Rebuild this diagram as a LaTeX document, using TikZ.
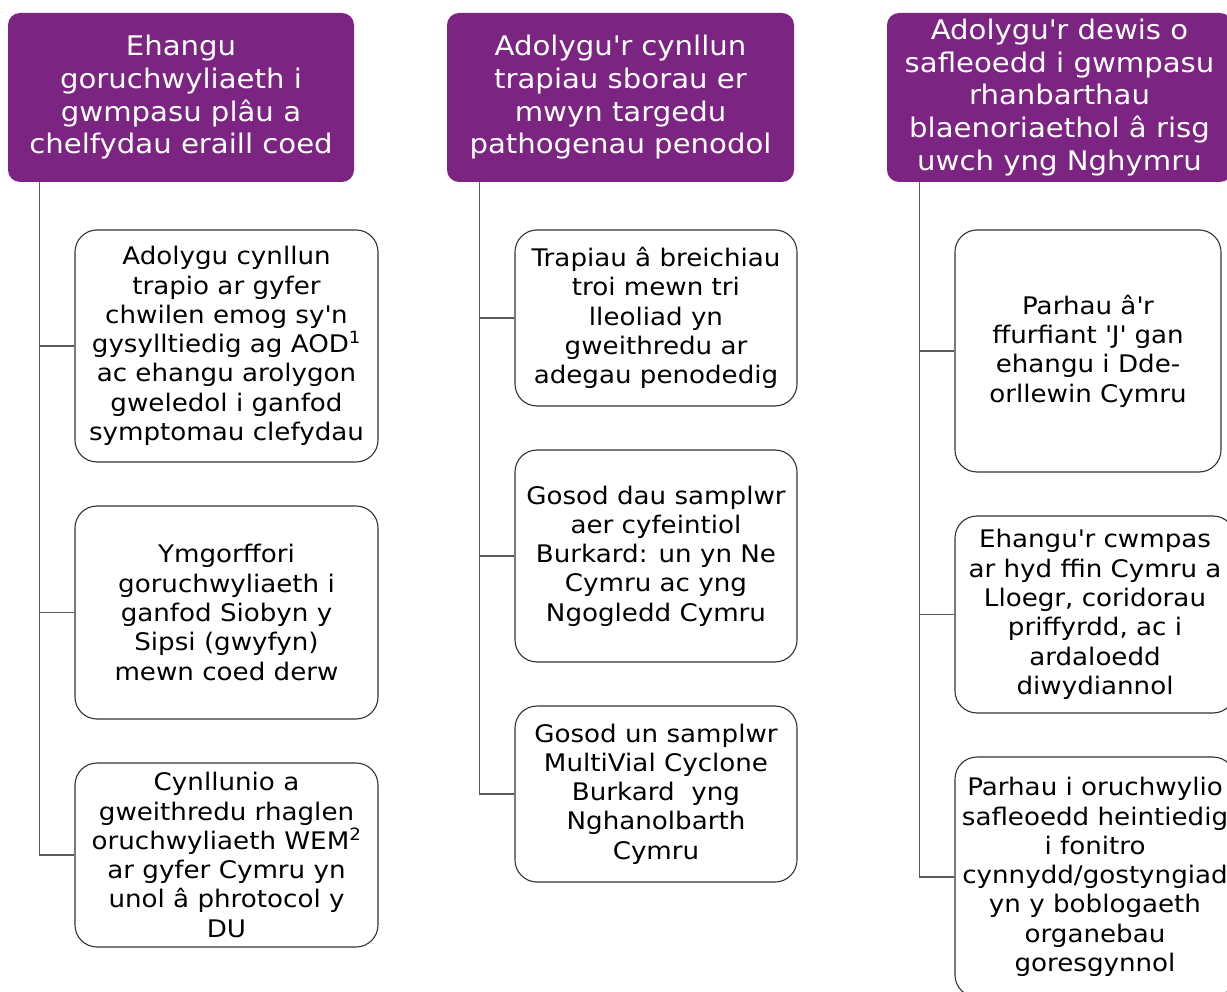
\documentclass[tikz,border=0pt]{standalone}
\usepackage{fontspec}
\setmainfont{DejaVu Sans}[FakeStretch=1.08]
\usetikzlibrary{positioning,calc}

\definecolor{headpurple}{HTML}{7B2481}
\definecolor{linegray}{HTML}{5A5A5A}
\newcommand{\ap}{\textquotesingle}

\tikzset{
    headbox/.style={fill=headpurple, text=white, rounded corners=12pt, align=center,
        font=\fontsize{27}{32.7}\selectfont, inner sep=0pt, minimum height=169pt},
    itembox/.style={draw=black!80, line width=1.1pt, fill=white, rounded corners=22pt, align=center,
        font=\fontsize{24.2}{29.3}\selectfont, inner sep=0pt},
    conn/.style={draw=linegray, line width=1.3pt}
}

\begin{document}
\begin{tikzpicture}[x=1pt, y=-1pt]
    \useasboundingbox (0,0) rectangle (1227,992);
    \clip (0,0) rectangle (1227,992);

    % Headers
    \node[headbox, minimum width=346pt] (h1) at (181,97.5)
        {Ehangu\\goruchwyliaeth i\\gwmpasu plâu a\\chelfydau eraill coed};
    \node[headbox, minimum width=347pt] (h2) at (620.5,97.5)
        {Adolygu\ap r cynllun\\trapiau sborau er\\mwyn targedu\\pathogenau penodol};
    \node[headbox, minimum width=345pt] (h3) at (1059.5,97.5)
        {Adolygu\ap r dewis o\\safleoedd i gwmpasu\\rhanbarthau\\blaenoriaethol â risg\\uwch yng Nghymru};

    % Column 1
    \node[itembox, minimum width=303pt, minimum height=232pt] (a1) at (226.5,346)
        {Adolygu cynllun\\trapio ar gyfer\\chwilen emog sy\ap n\\gysylltiedig ag AOD\textsuperscript{1}\\ac ehangu arolygon\\gweledol i ganfod\\symptomau clefydau};
    \node[itembox, minimum width=303pt, minimum height=213pt] (a2) at (226.5,612.5)
        {Ymgorffori\\goruchwyliaeth i\\ganfod Siobyn y\\Sipsi (gwyfyn)\\mewn coed derw};
    \node[itembox, minimum width=303pt, minimum height=184pt] (a3) at (226.5,855)
        {Cynllunio a\\gweithredu rhaglen\\oruchwyliaeth WEM\textsuperscript{2}\\ar gyfer Cymru yn\\unol â phrotocol y\\DU};

    % Column 2
    \node[itembox, minimum width=282pt, minimum height=176pt] (b1) at (656,318)
        {Trapiau â breichiau\\troi mewn tri\\lleoliad yn\\gweithredu ar\\adegau penodedig};
    \node[itembox, minimum width=282pt, minimum height=212pt] (b2) at (656,556)
        {Gosod dau samplwr\\aer cyfeintiol\\Burkard: un yn Ne\\Cymru ac yng\\Ngogledd Cymru};
    \node[itembox, minimum width=282pt, minimum height=176pt] (b3) at (656,794)
        {Gosod un samplwr\\MultiVial Cyclone\\Burkard\ \ yng\\Nghanolbarth\\Cymru};

    % Column 3
    \node[itembox, minimum width=266pt, minimum height=242pt] (c1) at (1088,351)
        {Parhau â\ap r\\ffurfiant \ap J\ap{} gan\\ehangu i Dde-\\orllewin Cymru};
    \node[itembox, minimum width=280pt, minimum height=197pt] (c2) at (1095,614.5)
        {Ehangu\ap r cwmpas\\ar hyd ffin Cymru a\\Lloegr, coridorau\\priffyrdd, ac i\\ardaloedd\\diwydiannol};
    \node[itembox, minimum width=280pt, minimum height=240pt] (c3) at (1095,877)
        {Parhau i oruchwylio\\safleoedd heintiedig\\i fonitro\\cynnydd/gostyngiad\\yn y boblogaeth\\organebau\\goresgynnol};

    % Connectors
    \coordinate (t1) at ($(h1.south west)+(32,0)$);
    \coordinate (t2) at ($(h2.south west)+(33,0)$);
    \coordinate (t3) at ($(h3.south west)+(33,0)$);
    \foreach \k in {1,2,3} {
        \draw[conn] (t1) |- (a\k.west);
        \draw[conn] (t2) |- (b\k.west);
        \draw[conn] (t3) |- (c\k.west);
    }
\end{tikzpicture}
\end{document}
